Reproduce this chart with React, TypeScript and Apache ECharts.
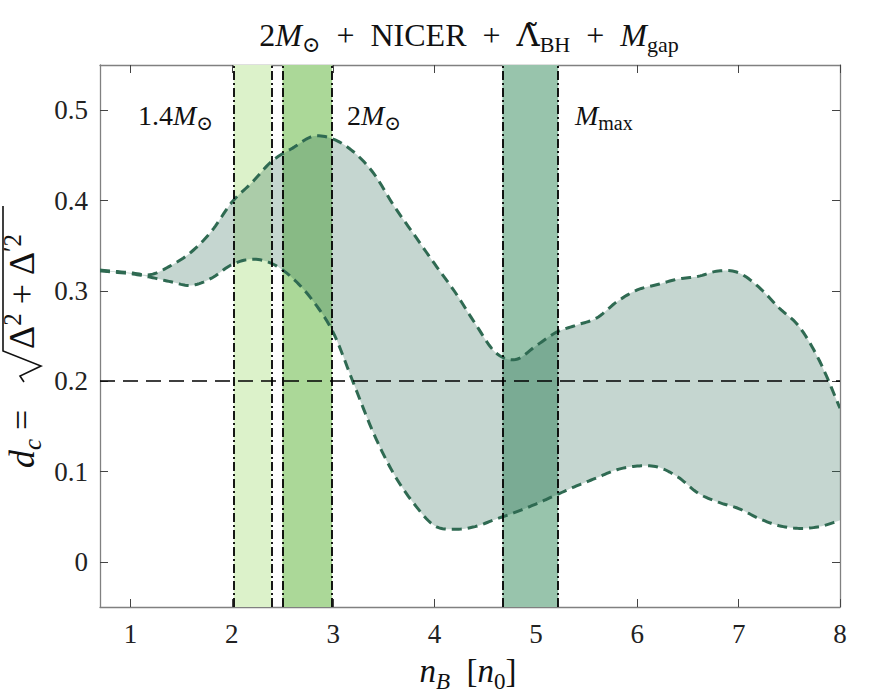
import { useEffect, useRef } from "react";
import * as echarts from "echarts";

// Baryon density grid (in units of n0) and the two envelopes of d_c
const nB = [0.7, 1.0, 1.2, 1.4, 1.6, 1.8, 2.0, 2.2, 2.4, 2.6, 2.8, 3.0, 3.2, 3.4, 3.6, 3.8, 4.0, 4.2, 4.4, 4.6, 4.8, 5.0, 5.2, 5.4, 5.6, 5.8, 6.0, 6.2, 6.4, 6.6, 6.8, 7.0, 7.2, 7.4, 7.6, 7.8, 8.0];
const dcUpper = [0.323, 0.320, 0.318, 0.328, 0.343, 0.366, 0.398, 0.420, 0.444, 0.458, 0.471, 0.468, 0.454, 0.430, 0.394, 0.362, 0.330, 0.299, 0.264, 0.232, 0.224, 0.239, 0.254, 0.262, 0.270, 0.288, 0.301, 0.307, 0.313, 0.316, 0.322, 0.320, 0.304, 0.281, 0.260, 0.222, 0.170];
const dcLower = [0.322, 0.319, 0.315, 0.310, 0.306, 0.314, 0.329, 0.335, 0.330, 0.314, 0.289, 0.254, 0.198, 0.142, 0.097, 0.064, 0.040, 0.036, 0.039, 0.047, 0.055, 0.064, 0.074, 0.084, 0.093, 0.102, 0.106, 0.105, 0.094, 0.076, 0.066, 0.059, 0.048, 0.040, 0.037, 0.039, 0.046];

// Central-density ranges of the 1.4 Msun, 2 Msun and maximum-mass stars
const bandLow = [2.02, 2.5, 4.67];
const bandHigh = [2.39, 2.99, 5.22];
const bandColors = ["#dcf2ca", "#abd898", "#98c4ac"];

const threshold = 0.2;
const xTicks = [1, 2, 3, 4, 5, 6, 7, 8];
const yTicks = [0, 0.1, 0.2, 0.3, 0.4, 0.5];

const fontFamily = "'Liberation Serif', 'DejaVu Serif', serif";
const curveColor = "#2f6a52";
const fillColor = "rgba(46,107,85,0.28)";

// Catmull-Rom interpolation of pixel points, for smooth envelopes
function spline(pts: number[][], steps = 10) {
  const out: number[][] = [];
  const n = pts.length;
  for (let i = 0; i < n - 1; i++) {
    const p0 = pts[Math.max(0, i - 1)];
    const p1 = pts[i];
    const p2 = pts[i + 1];
    const p3 = pts[Math.min(n - 1, i + 2)];
    for (let s = 0; s < steps; s++) {
      const t = s / steps;
      const t2 = t * t;
      const t3 = t2 * t;
      const f = (a: number, b: number, c: number, d: number) =>
        0.5 * (2 * b + (-a + c) * t + (2 * a - 5 * b + 4 * c - d) * t2 + (-a + 3 * b - 3 * c + d) * t3);
      out.push([f(p0[0], p1[0], p2[0], p3[0]), f(p0[1], p1[1], p2[1], p3[1])]);
    }
  }
  out.push(pts[n - 1]);
  return out;
}

// rich-text styles that mimic TeX sub/superscripts
function mathRich(F: number, scale = 0.7) {
  const S = Math.round(F * scale);
  const LH = Math.round(F * 1.4);
  const k = 0.34;
  const d = 0.2 * F;
  const u = 0.38 * F;
  const pb = Math.max(0, LH / 2 - S / 2 - k * (F - S) - d);
  const pt = Math.max(0, LH / 2 + k * (F - S) - u - S / 2);
  const base = { fontFamily, color: "#111", fill: "#111" };
  return {
    LH,
    rich: {
      n: { ...base, fontSize: F, lineHeight: LH },
      i: { ...base, fontSize: F, lineHeight: LH, fontStyle: "italic" },
      lam: { ...base, fontSize: F, lineHeight: LH, fontFamily: "'DejaVu Serif', serif" },
      sub: { ...base, fontSize: S, lineHeight: S, verticalAlign: "bottom", padding: [0, 0, pb, 0] },
      isub: { ...base, fontSize: S, lineHeight: S, verticalAlign: "bottom", padding: [0, 0, pb, 0], fontStyle: "italic" },
      sup: { ...base, fontSize: S, lineHeight: S, verticalAlign: "top", padding: [pt, 0, 0, 0] },
    },
  };
}

function mathText(text: string, F: number, x: number, y: number, align: string, scale = 0.7) {
  const m = mathRich(F, scale);
  return {
    type: "text",
    x,
    y,
    z: 100,
    style: {
      text,
      rich: m.rich,
      fontFamily,
      fontSize: F,
      lineHeight: m.LH,
      fill: "#111",
      align,
      verticalAlign: "middle",
    },
  };
}

export default function App() {
  const ref = useRef<HTMLDivElement>(null);

  useEffect(() => {
    document.body.style.margin = "0";
    const chart = echarts.init(ref.current!, null, { renderer: "svg" });

    const axisLine = { show: true, onZero: false, lineStyle: { color: "#808080", width: 1.3 } };
    const tickStyle = { show: true, inside: true, length: 8, lineStyle: { color: "#444", width: 1 } };
    const labelStyle = { fontFamily, fontSize: 27, color: "#222" };

    const yLabelRich = mathRich(36).rich;
    const plus = "\u2002+\u2002";

    const option = {
      animation: false,
      grid: { left: 100, right: 38, top: 65, bottom: 91, containLabel: false },
      xAxis: [
        {
          type: "value", position: "bottom", min: 0.7, max: 8,
          axisLine, splitLine: { show: false },
          axisTick: { ...tickStyle, customValues: xTicks },
          axisLabel: { ...labelStyle, margin: 13, customValues: xTicks },
        },
        {
          type: "value", position: "top", min: 0.7, max: 8,
          axisLine, splitLine: { show: false },
          axisTick: { ...tickStyle, customValues: xTicks },
          axisLabel: { show: false },
        },
      ],
      yAxis: [
        {
          type: "value", position: "left", min: -0.05, max: 0.55,
          axisLine, splitLine: { show: false },
          axisTick: { ...tickStyle, customValues: yTicks },
          axisLabel: { ...labelStyle, margin: 12, customValues: yTicks },
        },
        {
          type: "value", position: "right", min: -0.05, max: 0.55,
          axisLine, splitLine: { show: false },
          axisTick: { ...tickStyle, customValues: yTicks },
          axisLabel: { show: false },
        },
      ],
      series: [
        {
          type: "custom",
          name: "bands",
          z: 1,
          silent: true,
          clip: true,
          data: bandLow.map((lo, i) => [lo, bandHigh[i]]),
          renderItem: (params: any, api: any) => {
            const x0 = api.coord([api.value(0), 0])[0];
            const x1 = api.coord([api.value(1), 0])[0];
            const cs = params.coordSys;
            return {
              type: "rect",
              shape: { x: x0, y: cs.y, width: x1 - x0, height: cs.height },
              style: { fill: bandColors[params.dataIndex] },
            };
          },
        },
        {
          type: "custom",
          name: "envelope",
          z: 2,
          silent: true,
          clip: true,
          data: [[nB[0], dcLower[0]]],
          renderItem: (_params: any, api: any) => {
            const up = spline(nB.map((x, i) => api.coord([x, dcUpper[i]])));
            const lo = spline(nB.map((x, i) => api.coord([x, dcLower[i]])));
            return {
              type: "group",
              children: [
                {
                  type: "polygon",
                  shape: { points: up.concat(lo.slice().reverse()) },
                  style: { fill: fillColor },
                },
                {
                  type: "polyline",
                  shape: { points: lo },
                  style: { stroke: curveColor, lineWidth: 3, lineDash: [10, 6], fill: null },
                },
                {
                  type: "polyline",
                  shape: { points: up },
                  style: { stroke: curveColor, lineWidth: 3, lineDash: [10, 6], fill: null },
                },
              ],
            };
          },
          markLine: {
            silent: true,
            symbol: "none",
            label: { show: false },
            animation: false,
            data: [
              ...bandLow.concat(bandHigh).map((v) => ({
                xAxis: v,
                lineStyle: { color: "#000", width: 1.8, type: [9, 3, 2, 3] },
              })),
              { yAxis: threshold, lineStyle: { color: "#000", width: 1.6, type: [15, 8] } },
            ],
          },
        },
      ],
      graphic: [
        mathText(`{n|2}{i|M}{sub|⊙}${plus}NICER${plus}{lam|Λ̃}{sub|BH}${plus}{i|M}{sub|gap}`, 32, 469, 35, "center"),
        mathText("{n|1.4}{i|M}{sub|⊙}", 28, 138, 115, "left"),
        mathText("{n|2}{i|M}{sub|⊙}", 28, 347, 115, "left"),
        mathText("{i|M}{sub|max}", 28, 575, 115, "left"),
        mathText("{i|n}{isub|B}  [{i|n}{sub|0}]", 33, 468, 671, "center"),
        {
          type: "group",
          x: 34,
          y: 468,
          rotation: Math.PI / 2,
          z: 100,
          children: [
            {
              type: "text",
              x: 0,
              y: -12,
              style: {
                text: "{i|d}{isub|c} =",
                rich: yLabelRich,
                fontFamily,
                fontSize: 36,
                lineHeight: 50,
                fill: "#111",
                align: "left",
                verticalAlign: "middle",
              },
            },
            {
              type: "polyline",
              shape: { points: [[86, -10], [92, -14], [102, 7], [117, -31], [262, -31]] },
              style: { stroke: "#111", lineWidth: 1.6, fill: "none" },
            },
            {
              type: "text",
              x: 119,
              y: -12,
              style: {
                text: "{n|Δ}{sup|2} + {n|Δ}{sup|′2}",
                rich: yLabelRich,
                fontFamily,
                fontSize: 36,
                lineHeight: 50,
                fill: "#111",
                align: "left",
                verticalAlign: "middle",
              },
            },
          ],
        },
      ],
    };

    chart.setOption(option as any);
    return () => chart.dispose();
  }, []);

  return <div ref={ref} style={{ width: 878, height: 698 }} />;
}
